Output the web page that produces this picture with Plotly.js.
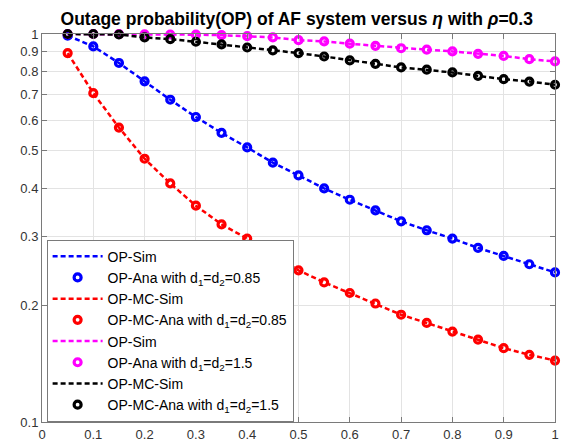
<!DOCTYPE html>
<html><head><meta charset="utf-8">
<script src="https://cdn.plot.ly/plotly-3.0.1.min.js"></script>
<style>html,body{margin:0;padding:0;background:#fff}#chart{width:561px;height:448px}</style>
</head><body><div id="chart"></div>
<script>
const eta = [0.05,0.10,0.15,0.20,0.25,0.30,0.35,0.40,0.45,0.50,0.55,0.60,0.65,0.70,0.75,0.80,0.85,0.90,0.95,1.00];
const opD085 = [0.990,0.929,0.842,0.755,0.677,0.611,0.556,0.510,0.466,0.432,0.400,0.374,0.351,0.329,0.312,0.297,0.281,0.268,0.255,0.243];
const opMcD085 = [0.893,0.704,0.574,0.477,0.412,0.361,0.323,0.297,0.270,0.246,0.229,0.215,0.202,0.189,0.180,0.171,0.163,0.155,0.149,0.144];
const opD15 = [1.000,1.000,0.999,0.998,0.997,0.996,0.993,0.987,0.980,0.964,0.957,0.944,0.932,0.919,0.911,0.902,0.889,0.878,0.861,0.850];
const opMcD15 = [1.000,1.000,0.997,0.980,0.970,0.955,0.940,0.923,0.907,0.893,0.875,0.855,0.838,0.820,0.809,0.796,0.780,0.765,0.754,0.740];
const xTicks = [0,0.1,0.2,0.3,0.4,0.5,0.6,0.7,0.8,0.9,1];
const yTicks = [0.1,0.2,0.3,0.4,0.5,0.6,0.7,0.8,0.9,1];
const yTickText = ['0.1','0.2','0.3','0.4','0.5','0.6','0.7','0.8','0.9','1'];

const series = [
  {y: opD085, color: '#0000ff', sim: 'OP-Sim', ana: 'OP-Ana with d<sub>1</sub>=d<sub>2</sub>=0.85'},
  {y: opMcD085, color: '#ff0000', sim: 'OP-MC-Sim', ana: 'OP-MC-Ana with d<sub>1</sub>=d<sub>2</sub>=0.85'},
  {y: opD15, color: '#ff00ff', sim: 'OP-Sim', ana: 'OP-Ana with d<sub>1</sub>=d<sub>2</sub>=1.5'},
  {y: opMcD15, color: '#000000', sim: 'OP-MC-Sim', ana: 'OP-MC-Ana with d<sub>1</sub>=d<sub>2</sub>=1.5'}
];
const traces = [];
series.forEach(s => {
  traces.push({x: eta, y: s.y, type: 'scatter', mode: 'lines', name: s.sim,
    line: {color: s.color, width: 2.5, dash: '5px,3px'}, cliponaxis: false});
  traces.push({x: eta, y: s.y, type: 'scatter', mode: 'markers', name: s.ana,
    marker: {symbol: 'circle-open', size: 7, color: s.color, line: {color: s.color, width: 3.2}}, cliponaxis: false});
});

const axisCommon = {
  showline: true, linecolor: '#7a7a7a', linewidth: 1, mirror: 'ticks',
  ticks: 'inside', ticklen: 5, tickcolor: '#7a7a7a',
  showgrid: true, gridcolor: '#e3e3e3', zeroline: false,
  tickfont: {family: 'Liberation Sans, Arial, sans-serif', size: 13, color: '#333333'}
};
const layout = {
  width: 561, height: 448,
  margin: {l: 42, r: 6, t: 34, b: 26},
  paper_bgcolor: '#ffffff', plot_bgcolor: '#ffffff',
  title: {text: '<b>Outage probability(OP) of AF system versus <i>η</i> with <i>ρ</i>=0.3</b>',
    font: {family: 'Liberation Sans, Arial, sans-serif', size: 17.5, color: '#000'},
    x: 0.529, xanchor: 'center', y: 0.957, yanchor: 'middle'},
  xaxis: Object.assign({}, axisCommon, {range: [0, 1], tickvals: xTicks, ticktext: xTicks.map(String)}),
  yaxis: Object.assign({}, axisCommon, {type: 'log', range: [-1, 0], tickvals: yTicks, ticktext: yTickText}),
  showlegend: true,
  legend: {x: 0.009, y: 0.47, xanchor: 'left', yanchor: 'top',
    bgcolor: '#ffffff', bordercolor: '#7a7a7a', borderwidth: 1,
    font: {family: 'Liberation Sans, Arial, sans-serif', size: 14, color: '#000'},
    itemwidth: 50, tracegroupgap: 0}
};
Plotly.newPlot('chart', traces, layout, {displayModeBar: false, staticPlot: true});
</script></body></html>
